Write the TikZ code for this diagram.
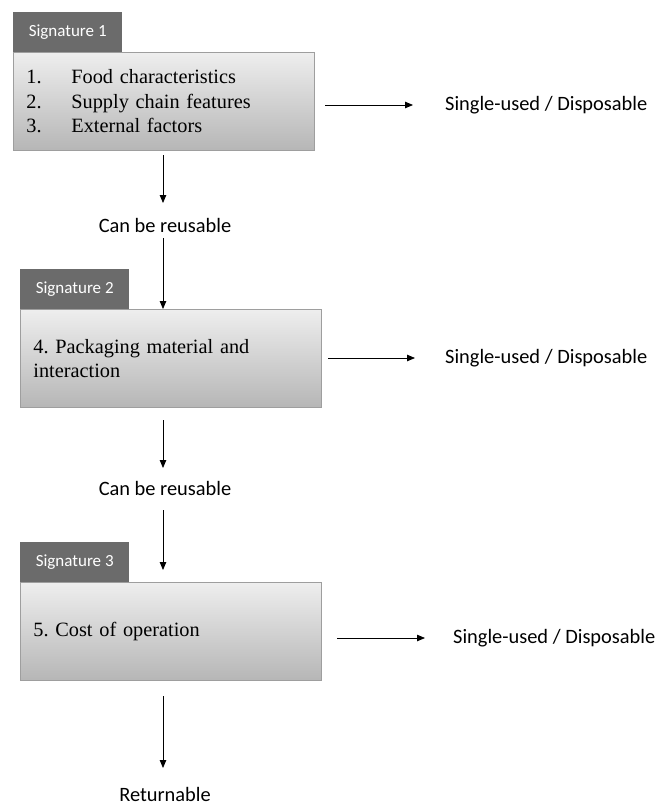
\documentclass[tikz,border=0pt]{standalone}
\usepackage{fontspec}
\setmainfont{Liberation Serif}
\newfontfamily\calfont{Carlito}
\usetikzlibrary{arrows.meta}
\definecolor{tabgray}{HTML}{6B6B6B}
\definecolor{boxedge}{HTML}{9E9E9E}
\definecolor{boxtop}{HTML}{EEEEEE}
\definecolor{boxbot}{HTML}{B6B6B6}
\frenchspacing
\begin{document}
\begin{tikzpicture}[x=1bp,y=-1bp,
  sigbox/.style={draw=boxedge, line width=0.8bp, top color=boxtop, bottom color=boxbot,
    anchor=north west, minimum width=301bp, minimum height=98bp, inner xsep=13bp,
    text width=275bp, align=left, font=\frenchspacing\fontsize{20.3bp}{24.5bp}\selectfont},
  sigtab/.style={fill=tabgray, anchor=south west, minimum width=109bp, minimum height=40bp,
    text=white, font=\calfont\fontsize{17bp}{20bp}\selectfont, inner sep=0pt},
  lbl/.style={font=\calfont\fontsize{20.4bp}{24bp}\selectfont, inner sep=0pt},
  arr/.style={-{Triangle[length=8bp,width=6.5bp]}, line width=0.8bp}
]
\useasboundingbox (0,0) rectangle (661,803);

% boxes
\node[sigbox] (b1) at (13,52) {\makebox[45bp][l]{1.}Food characteristics\\\makebox[45bp][l]{2.}Supply chain features\\\makebox[45bp][l]{3.}External factors};
\node[sigtab] (t1) at (13,52) {Signature 1};

\node[sigbox] (b2) at (20,309) {4. Packaging material and\\interaction};
\node[sigtab] (t2) at (20,309) {Signature 2};

\node[sigbox] (b3) at (20,582) {5. Cost of operation};
\node[sigtab] (t3) at (20,582) {Signature 3};

% labels
\node[lbl, anchor=west] (s1) at (445,105) {Single-used / Disposable};
\node[lbl, anchor=west] (s2) at (445,358) {Single-used / Disposable};
\node[lbl, anchor=west] (s3) at (453,638) {Single-used / Disposable};
\node[lbl] (c1) at (165,225) {Can be reusable};
\node[lbl] (c2) at (165,488) {Can be reusable};
\node[lbl, anchor=base] (r) at (165,801) {Returnable};

% coordinates for arrows
\coordinate (a1s) at (163,155);
\coordinate (a1e) at (163,203);
\coordinate (a2s) at (163,238);
\coordinate (a3s) at (163,420);
\coordinate (a3e) at (163,468);
\coordinate (a4s) at (163,510);
\coordinate (a4e) at (163,570);
\coordinate (a5s) at (163,696);
\coordinate (a5e) at (163,768);
\coordinate (h1s) at (325,105);
\coordinate (h2s) at (328,358);
\coordinate (h3s) at (337,638);

\draw[arr] (a1s) -- (a1e);
\draw[arr] (a2s) -- (a2s |- b2.north);
\draw[arr] (a3s) -- (a3e);
\draw[arr] (a4s) -- (a4e);
\draw[arr] (a5s) -- (a5e);

\draw[arr] (h1s) -- ([xshift=-32bp]s1.west);
\draw[arr] (h2s) -- ([xshift=-30bp]s2.west);
\draw[arr] (h3s) -- ([xshift=-28bp]s3.west);
\end{tikzpicture}
\end{document}
